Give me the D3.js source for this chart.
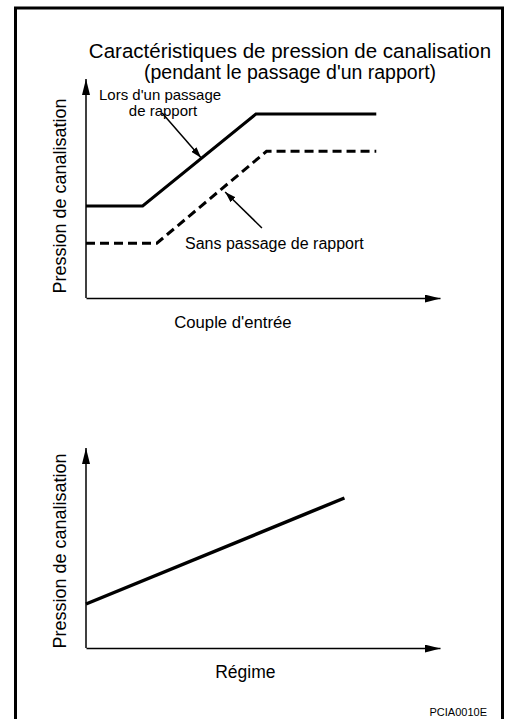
<!DOCTYPE html>
<html>
<head>
<meta charset="utf-8">
<script src="https://cdn.jsdelivr.net/npm/d3@7"></script>
<style>
  body { margin: 0; background: #fff; }
  text { font-family: "Liberation Sans", Arial, sans-serif; fill: #000; }
</style>
</head>
<body>
<div id="chart"></div>
<script>
// top panel: pressure vs input torque (schematic units 0..100)
const shiftX = [0, 16, 48, 82];
const shiftY = [42, 42, 84, 84];
const noShiftX = [0, 20, 51, 82];
const noShiftY = [25, 25, 67, 67];

// bottom panel: pressure vs engine speed
const speedX = [0, 73];
const speedY = [22, 75];

const titleLines = ["Caractéristiques de pression de canalisation", "(pendant le passage d'un rapport)"];
const yLabel = "Pression de canalisation";
const topXLabel = "Couple d'entrée";
const bottomXLabel = "Régime";
const shiftLabel = ["Lors d'un passage", "de rapport"];
const noShiftLabel = "Sans passage de rapport";
const refCode = "PCIA0010E";

const width = 506;
const height = 719;

const svg = d3.select("#chart").append("svg")
  .attr("width", width)
  .attr("height", height);

const defs = svg.append("defs");
defs.append("marker")
  .attr("id", "axisHead")
  .attr("markerUnits", "userSpaceOnUse")
  .attr("viewBox", "0 0 16 8")
  .attr("markerWidth", 16)
  .attr("markerHeight", 8)
  .attr("refX", 16)
  .attr("refY", 4)
  .attr("orient", "auto")
  .append("path")
  .attr("d", "M0,0L16,4L0,8Z")
  .attr("fill", "#000");
defs.append("marker")
  .attr("id", "noteHead")
  .attr("markerUnits", "userSpaceOnUse")
  .attr("viewBox", "0 0 11 7")
  .attr("markerWidth", 11)
  .attr("markerHeight", 7)
  .attr("refX", 11)
  .attr("refY", 3.5)
  .attr("orient", "auto")
  .append("path")
  .attr("d", "M0,0L11,3.5L0,7Z")
  .attr("fill", "#000");

// frame
svg.append("rect")
  .attr("x", 15.5)
  .attr("y", 8)
  .attr("width", 487)
  .attr("height", 730)
  .attr("fill", "none")
  .attr("stroke", "#000")
  .attr("stroke-width", 3);

// title, two lines
svg.append("g")
  .selectAll("text")
  .data(titleLines)
  .enter()
  .append("text")
  .attr("x", 290)
  .attr("y", (d, i) => 58 + i * 21)
  .attr("text-anchor", "middle")
  .style("font-size", (d, i) => i === 0 ? "20.5px" : "19.5px")
  .text(d => d);

const drawPanel = (top, bottom, xLabelText, xLabelSize, xLabelPos, yLabelMid) => {
  const x = d3.scaleLinear().domain([0, 100]).range([86, 440]);
  const y = d3.scaleLinear().domain([0, 100]).range([bottom, top]);

  const gx = svg.append("g")
    .attr("transform", `translate(0, ${bottom})`)
    .call(d3.axisBottom(x).tickValues([]).tickSizeOuter(0));
  gx.select(".domain")
    .attr("stroke-width", 1.5)
    .attr("marker-end", "url(#axisHead)");

  const gy = svg.append("g")
    .attr("transform", `translate(86, 0)`)
    .call(d3.axisLeft(y).tickValues([]).tickSizeOuter(0));
  gy.select(".domain")
    .attr("stroke-width", 1.5)
    .attr("d", `M0,${bottom}V${top}`)
    .attr("marker-end", "url(#axisHead)");

  svg.append("text")
    .attr("transform", `translate(66, ${yLabelMid}) rotate(-90)`)
    .attr("text-anchor", "middle")
    .style("font-size", "18px")
    .text(yLabel);

  svg.append("text")
    .attr("x", x(xLabelPos))
    .attr("y", bottom + 30)
    .attr("text-anchor", "middle")
    .style("font-size", xLabelSize)
    .text(xLabelText);

  return { x, y };
};

const line = (sx, sy) => d3.line().x(d => sx(d[0])).y(d => sy(d[1]));

// top panel
const p1 = drawPanel(79, 298, topXLabel, "16.7px", 41.5, 196);

svg.append("path")
  .datum(d3.zip(shiftX, shiftY))
  .attr("d", line(p1.x, p1.y))
  .attr("fill", "none")
  .attr("stroke", "#000")
  .attr("stroke-width", 3);

svg.append("path")
  .datum(d3.zip(noShiftX, noShiftY))
  .attr("d", line(p1.x, p1.y))
  .attr("fill", "none")
  .attr("stroke", "#000")
  .attr("stroke-width", 3)
  .attr("stroke-dasharray", "9,5");

// annotation arrows (data units)
svg.append("line")
  .attr("x1", p1.x(21.5)).attr("y1", p1.y(84.5))
  .attr("x2", p1.x(32.5)).attr("y2", p1.y(64))
  .attr("stroke", "#000")
  .attr("stroke-width", 1.5)
  .attr("marker-end", "url(#noteHead)");

svg.append("line")
  .attr("x1", p1.x(49.7)).attr("y1", p1.y(32))
  .attr("x2", p1.x(39.3)).attr("y2", p1.y(48.4))
  .attr("stroke", "#000")
  .attr("stroke-width", 1.5)
  .attr("marker-end", "url(#noteHead)");

svg.append("text")
  .attr("x", 99)
  .attr("y", 100)
  .style("font-size", "15px")
  .text(shiftLabel[0]);
svg.append("text")
  .attr("x", 163)
  .attr("y", 116)
  .attr("text-anchor", "middle")
  .style("font-size", "15px")
  .text(shiftLabel[1]);

svg.append("text")
  .attr("x", 185)
  .attr("y", 249)
  .style("font-size", "16px")
  .text(noShiftLabel);

// bottom panel
const p2 = drawPanel(448, 648, bottomXLabel, "17.5px", 45, 551);

svg.append("path")
  .datum(d3.zip(speedX, speedY))
  .attr("d", line(p2.x, p2.y))
  .attr("fill", "none")
  .attr("stroke", "#000")
  .attr("stroke-width", 3.5);

svg.append("text")
  .attr("x", 487)
  .attr("y", 716)
  .attr("text-anchor", "end")
  .style("font-size", "11px")
  .text(refCode);
</script>
</body>
</html>
